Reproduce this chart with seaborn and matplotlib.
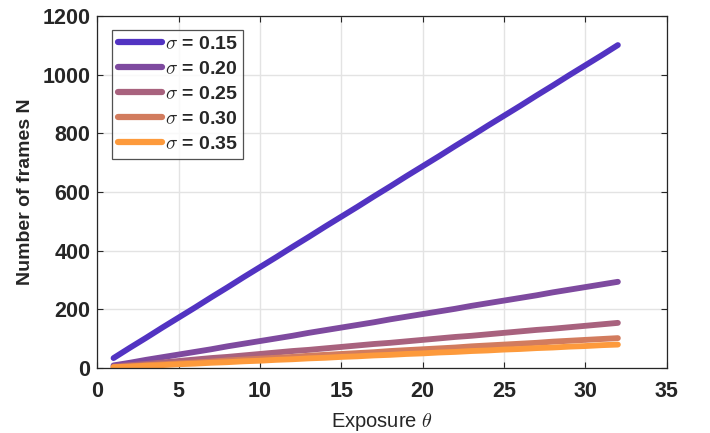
import numpy as np
import pandas as pd
import matplotlib
matplotlib.use("Agg")
import matplotlib.pyplot as plt
import seaborn as sns

# exposure values (theta)
exposure = list(range(1, 33))

# number of frames N for each sigma
n_015 = [34, 69, 103, 138, 172, 206, 241, 275, 310, 344, 378, 413, 447, 482, 516, 550,
         585, 619, 654, 688, 722, 757, 791, 826, 860, 894, 929, 963, 998, 1032, 1066, 1101]
n_020 = [9, 18, 28, 37, 46, 55, 64, 74, 83, 92, 101, 110, 120, 129, 138, 147,
         156, 166, 175, 184, 193, 202, 212, 221, 230, 239, 248, 258, 267, 276, 285, 294]
n_025 = [5, 10, 14, 19, 24, 29, 34, 38, 43, 48, 53, 58, 62, 67, 72, 77,
         82, 86, 91, 96, 101, 106, 110, 115, 120, 125, 130, 134, 139, 144, 149, 154]
n_030 = [3, 6, 10, 13, 16, 19, 22, 26, 29, 32, 35, 38, 42, 45, 48, 51,
         54, 58, 61, 64, 67, 70, 74, 77, 80, 83, 86, 90, 93, 96, 99, 102]
n_035 = [3, 5, 8, 10, 13, 15, 18, 20, 23, 25, 28, 30, 33, 35, 38, 40,
         43, 45, 48, 50, 53, 55, 58, 60, 63, 65, 68, 70, 73, 75, 78, 80]

sigma_labels = [r"$\sigma$ = 0.15", r"$\sigma$ = 0.20", r"$\sigma$ = 0.25",
                r"$\sigma$ = 0.30", r"$\sigma$ = 0.35"]
colors = ["#5233C2", "#7E4A9F", "#A8627E", "#D27C5E", "#FD9A3C"]

frames = []
for lab, vals in zip(sigma_labels, [n_015, n_020, n_025, n_030, n_035]):
    frames.append(pd.DataFrame({"exposure": exposure, "N": vals, "sigma": lab}))
df = pd.concat(frames, ignore_index=True)

sns.set_style("ticks")
plt.rcParams['font.family'] = ['Liberation Sans', 'DejaVu Sans']
plt.rcParams['mathtext.fontset'] = 'cm'

fig = plt.figure(figsize=(7.1, 4.33), dpi=100)
ax = fig.add_axes([0.137, 0.150, 0.802, 0.813])

sns.lineplot(data=df, x="exposure", y="N", hue="sigma",
             palette=dict(zip(sigma_labels, colors)), linewidth=4.2, ax=ax)

ax.set_xlim(0, 35)
ax.set_ylim(0, 1200)
ax.set_xticks(range(0, 36, 5))
ax.set_yticks(range(0, 1201, 200))
ax.grid(True, color="#e3e3e3", linewidth=1.0)
ax.set_axisbelow(True)
for s in ax.spines.values():
    s.set_color("#262626")
    s.set_linewidth(0.9)
ax.tick_params(direction="in", top=True, right=True, length=4, width=0.8,
               labelsize=15.5, colors="#262626")
ax.tick_params(axis="x", pad=9)
ax.tick_params(axis="y", pad=5)
for t in ax.get_xticklabels() + ax.get_yticklabels():
    t.set_fontweight("bold")

ax.set_xlabel(r"Exposure $\theta$", fontsize=14.5, color="#262626", labelpad=7)
ax.set_ylabel("Number of frames N", fontsize=14, fontweight="bold", color="#262626",
              labelpad=6)

leg = ax.legend(loc="upper left", bbox_to_anchor=(0.026, 0.96), borderaxespad=0,
                title=None, fancybox=False, edgecolor="#262626", handlelength=2.3,
                handletextpad=0.15, labelspacing=0.38, borderpad=0.28,
                prop={"weight": "bold", "size": 14})
leg.get_frame().set_linewidth(0.9)
for line in leg.get_lines():
    line.set_linewidth(4.5)

fig.savefig("out.png", dpi=100)
